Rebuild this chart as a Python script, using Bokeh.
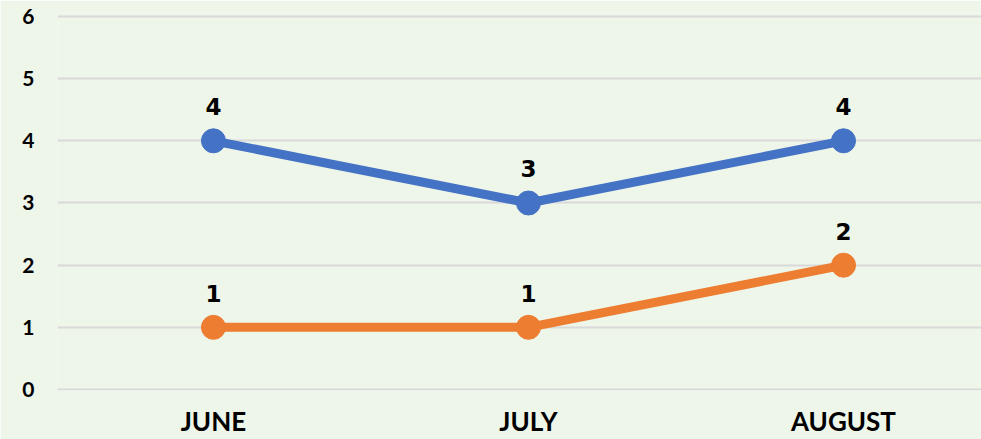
from bokeh.plotting import figure
from bokeh.models import Range1d, FixedTicker, ColumnDataSource
from bokeh.core.properties import value
from bokeh.embed import file_html
from bokeh.resources import INLINE

months = ["JUNE", "JULY", "AUGUST"]
series_a = [4, 3, 4]
series_b = [1, 1, 2]
y_ticks = [0, 1, 2, 3, 4, 5, 6]

BG = "#EEF5E9"
BLUE = "#4472C4"
ORANGE = "#ED7D31"

xs = list(range(len(months)))

p = figure(width=981, height=439, output_backend="svg", toolbar_location=None,
           x_range=Range1d(-0.495, 2.438), y_range=Range1d(-0.016, 6.064),
           min_border_left=57, min_border_right=0, min_border_top=12, min_border_bottom=47)
p.background_fill_color = BG
p.border_fill_color = BG
p.outline_line_color = None

p.xgrid.grid_line_color = None
p.ygrid.grid_line_color = "#D9D9D9"
p.ygrid.grid_line_width = 2
p.yaxis.ticker = FixedTicker(ticks=y_ticks)
p.xaxis.ticker = FixedTicker(ticks=xs)
p.xaxis.major_label_overrides = {i: m for i, m in enumerate(months)}

for ax in (p.xaxis, p.yaxis):
    ax.axis_line_color = None
    ax.major_tick_line_color = None
    ax.minor_tick_line_color = None
    ax.major_tick_out = 0
    ax.major_tick_in = 0
    ax.minor_tick_out = 0
    ax.minor_tick_in = 0
    ax.major_label_text_font = "Lato"
    ax.major_label_text_font_style = "bold"
    ax.major_label_text_color = "#000000"
p.xaxis.major_label_text_font_size = "26px"
p.yaxis.major_label_text_font_size = "21px"
p.xaxis.major_label_standoff = 14
p.yaxis.major_label_standoff = 23

for vals, col in ((series_a, BLUE), (series_b, ORANGE)):
    src = ColumnDataSource(dict(x=xs, y=vals, t=[str(v) for v in vals]))
    p.line("x", "y", source=src, line_color=col, line_width=9)
    p.scatter("x", "y", source=src, size=24, fill_color=col, line_color=col)
    p.text("x", "y", text="t", source=src, y_offset=-34, text_align="center",
           text_baseline="middle", text_font=value("DejaVu Sans"),
           text_font_style="bold", text_font_size="23px", text_color="#000000")

open("out.html", "w").write(file_html(p, INLINE))
